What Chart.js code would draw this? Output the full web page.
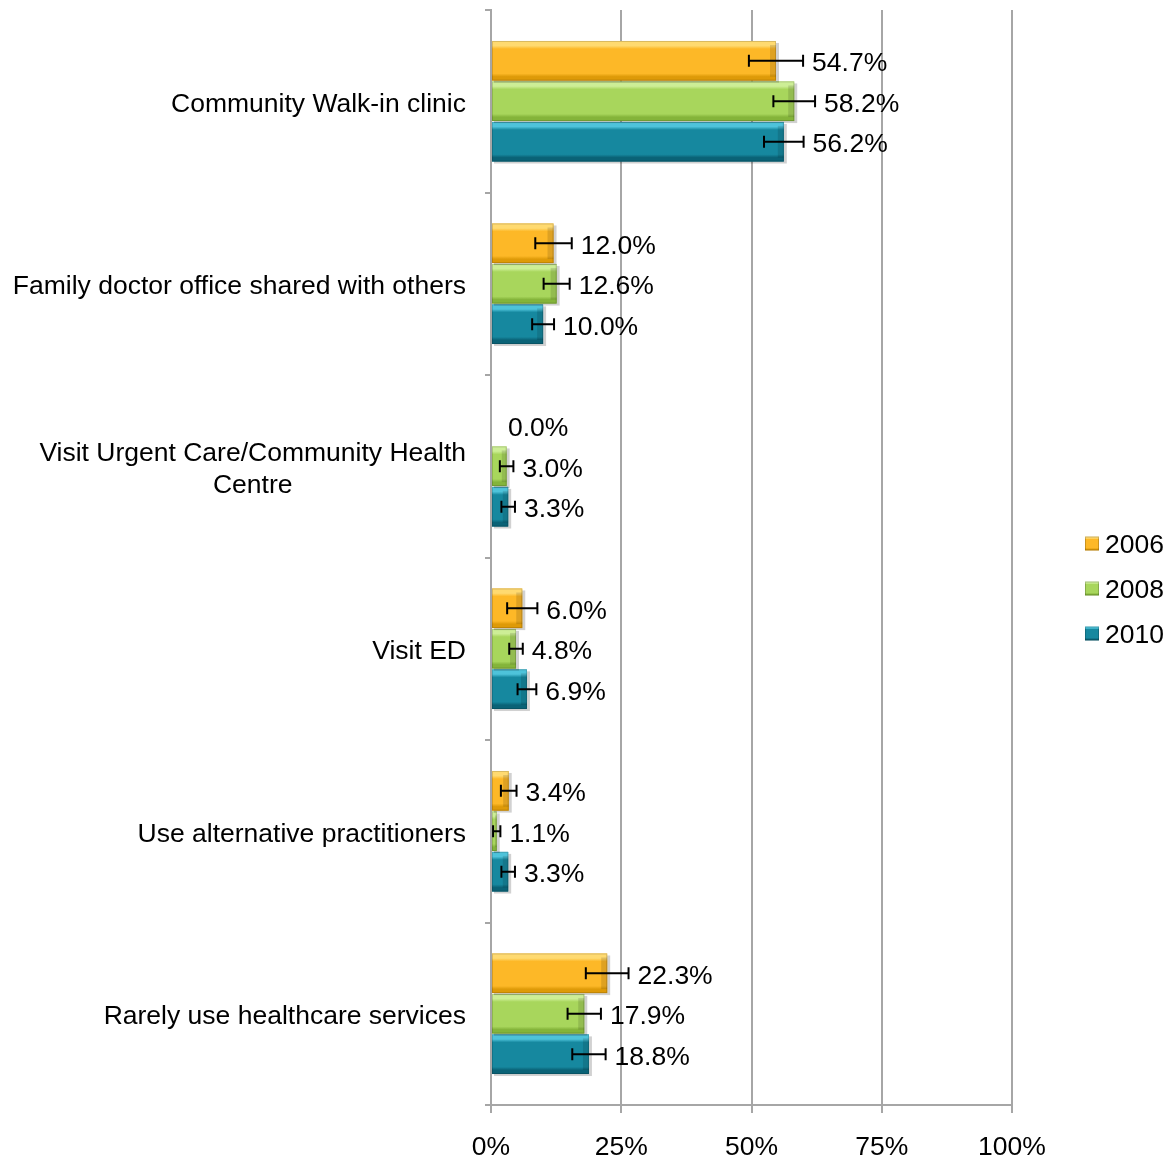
<!DOCTYPE html>
<html>
<head>
<meta charset="utf-8">
<script src="https://cdn.jsdelivr.net/npm/chart.js@4.4.0/dist/chart.umd.min.js"></script>
<style>
  html, body { margin: 0; padding: 0; background: #fff; }
  #wrap { width: 1170px; height: 1159px; }
</style>
</head>
<body>
<div id="wrap"><canvas id="grafico"></canvas></div>
<script>
const categorias = [
  "Community Walk-in clinic",
  "Family doctor office shared with others",
  ["Visit Urgent Care/Community Health", "Centre"],
  "Visit ED",
  "Use alternative practitioners",
  "Rarely use healthcare services"
];
const anios = ["2006", "2008", "2010"];
const valores2006 = [54.7, 12.0, 0.0, 6.0, 3.4, 22.3];
const valores2008 = [58.2, 12.6, 3.0, 4.8, 1.1, 17.9];
const valores2010 = [56.2, 10.0, 3.3, 6.9, 3.3, 18.8];
const error2006 = [5.2, 3.5, 0, 2.9, 1.5, 4.1];
const error2008 = [4.0, 2.5, 1.3, 1.3, 0.7, 3.2];
const error2010 = [3.8, 2.1, 1.3, 1.8, 1.3, 3.2];
const ticksX = [0, 25, 50, 75, 100];

const colores = [
  { base: "#FDB827", claro: "#FFDA70", oscuro: "#DE9A08" },
  { base: "#A8D65C", claro: "#CDEE96", oscuro: "#84B43A" },
  { base: "#16889F", claro: "#4EC3DA", oscuro: "#0A6276" }
];
const series = [valores2006, valores2008, valores2010];
const errores = [error2006, error2008, error2010];
const FUENTE = "'Liberation Sans', Arial, Helvetica, sans-serif";
const TAM = 26.5;

function cajaBisel(ctx, c, x, y, w, h) {
  const g = ctx.createLinearGradient(0, y, 0, y + h);
  g.addColorStop(0, c.claro);
  g.addColorStop(0.12, c.claro);
  g.addColorStop(0.2, c.base);
  g.addColorStop(0.82, c.base);
  g.addColorStop(0.9, c.oscuro);
  g.addColorStop(1, c.oscuro);
  ctx.fillStyle = g;
  ctx.fillRect(x, y, w, h);
}

// relleno con degradado estilo Excel sobre cada barra
const barras3D = {
  id: "barras3D",
  afterDatasetDraw(chart, args) {
    const ctx = chart.ctx;
    const c = colores[args.index];
    ctx.save();
    args.meta.data.forEach(bar => {
      const p = bar.getProps(["x", "y", "base", "height"], true);
      const top = p.y - p.height / 2;
      const w = p.x - p.base;
      if (w <= 0.5) return;
      ctx.fillStyle = "rgba(0,0,0,0.18)";
      ctx.fillRect(p.base + 2, top + 2, w + 1, p.height);
      cajaBisel(ctx, c, p.base, top, w, p.height);
      const bw = Math.min(6, w / 3);
      ctx.fillStyle = "rgba(0,0,0,0.12)";
      ctx.fillRect(p.x - bw, top + 4, bw, p.height - 8);
      ctx.strokeStyle = "rgba(0,0,0,0.15)";
      ctx.lineWidth = 1;
      ctx.strokeRect(p.base + 0.5, top + 0.5, w - 1, p.height - 1);
    });
    ctx.restore();
  }
};

// barras de error, etiquetas de datos, categorias y leyenda
const textos = {
  id: "textos",
  afterDatasetsDraw(chart) {
    const ctx = chart.ctx;
    const x = chart.scales.x;
    const y = chart.scales.y;
    const area = chart.chartArea;
    ctx.save();
    ctx.font = TAM + "px " + FUENTE;
    ctx.fillStyle = "#000";
    ctx.textBaseline = "middle";

    chart.data.datasets.forEach((ds, i) => {
      const meta = chart.getDatasetMeta(i);
      meta.data.forEach((bar, j) => {
        const v = ds.data[j];
        const e = errores[i][j];
        const yc = bar.y;
        const xLo = x.getPixelForValue(v - e);
        const xHi = x.getPixelForValue(v + e);
        if (e > 0) {
          ctx.strokeStyle = "#000";
          ctx.lineWidth = 2;
          ctx.beginPath();
          ctx.moveTo(xLo, yc); ctx.lineTo(xHi, yc);
          ctx.moveTo(xLo, yc - 6); ctx.lineTo(xLo, yc + 6);
          ctx.moveTo(xHi, yc - 6); ctx.lineTo(xHi, yc + 6);
          ctx.stroke();
        }
        ctx.textAlign = "left";
        const xt = e > 0 ? xHi + 9 : x.getPixelForValue(v) + 17;
        ctx.fillText(v.toFixed(1) + "%", xt, yc + 3);
      });
    });

    // etiquetas de categoria, alineadas a la derecha
    const xDer = area.left - 25;
    chart.data.labels.forEach((lab, j) => {
      const yc = y.getPixelForValue(j) + 3;
      const lineas = Array.isArray(lab) ? lab : [lab];
      const anchoMax = Math.max(...lineas.map(l => ctx.measureText(l).width));
      const centro = xDer - anchoMax / 2;
      const alto = 32;
      lineas.forEach((l, k) => {
        const yl = yc + (k - (lineas.length - 1) / 2) * alto;
        if (lineas.length > 1) {
          ctx.textAlign = "center";
          ctx.fillText(l, centro, yl);
        } else {
          ctx.textAlign = "right";
          ctx.fillText(l, xDer, yl);
        }
      });
    });

    // leyenda
    const medio = (area.top + area.bottom) / 2 + 32;
    anios.forEach((a, i) => {
      const yc = medio + (i - 1) * 45;
      const bx = area.right + 73;
      cajaBisel(ctx, colores[i], bx, yc - 8, 14, 14);
      ctx.strokeStyle = "rgba(0,0,0,0.2)";
      ctx.lineWidth = 1;
      ctx.strokeRect(bx + 0.5, yc - 7.5, 13, 13);
      ctx.fillStyle = "#000";
      ctx.textAlign = "left";
      ctx.fillText(a, bx + 20, yc + 1);
    });
    ctx.restore();
  }
};

new Chart(document.getElementById("grafico"), {
  type: "bar",
  data: {
    labels: categorias,
    datasets: anios.map((a, i) => ({
      label: a,
      data: series[i],
      backgroundColor: colores[i].base,
      borderWidth: 0,
      categoryPercentage: 0.665,
      barPercentage: 0.98
    }))
  },
  options: {
    indexAxis: "y",
    responsive: true,
    maintainAspectRatio: false,
    animation: false,
    layout: { padding: { left: 0, top: 10, right: 158, bottom: 0 } },
    plugins: {
      legend: { display: false },
      tooltip: { enabled: false }
    },
    scales: {
      x: {
        min: 0,
        max: 100,
        afterBuildTicks(axis) { axis.ticks = ticksX.map(v => ({ value: v })); },
        afterFit(axis) { axis.height = 54; },
        ticks: {
          callback: v => v + "%",
          font: { size: TAM, family: FUENTE },
          color: "#000",
          padding: 19,
          maxRotation: 0
        },
        grid: { color: "#A6A6A6", lineWidth: 2, tickLength: 8 },
        border: { color: "#A6A6A6", width: 2 }
      },
      y: {
        afterFit(axis) { axis.width = 491; },
        ticks: { display: false },
        grid: { offset: true, drawOnChartArea: false, color: "#A6A6A6", lineWidth: 2, tickLength: 6 },
        border: { color: "#A6A6A6", width: 2 }
      }
    }
  },
  plugins: [barras3D, textos]
});
</script>
</body>
</html>
